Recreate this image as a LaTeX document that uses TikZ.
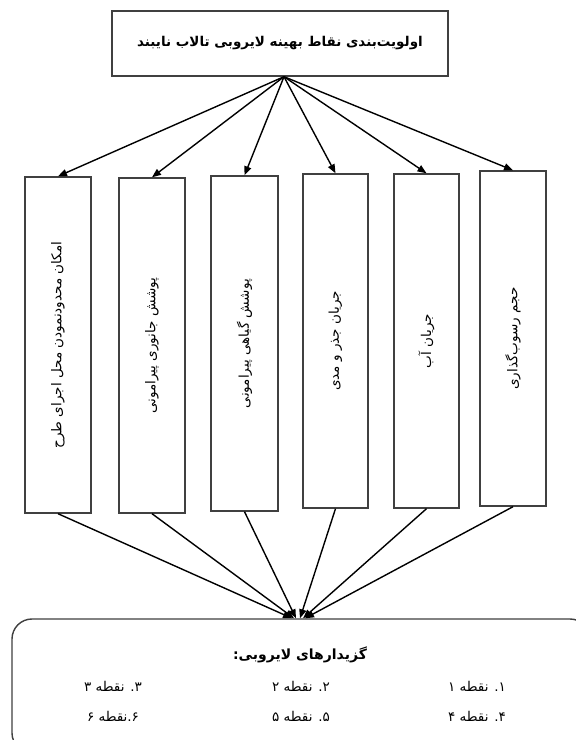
\documentclass[tikz,border=0pt]{standalone}
\usepackage{fontspec}
\usetikzlibrary{arrows.meta,calc}
\newfontfamily\fa[Script=Arabic]{DejaVu Sans}
\TeXXeTstate=1
\tikzset{
  frame/.style={draw=black!75, line width=1.4pt, fill=white, inner sep=0pt},
  vbox/.style={frame, rotate=90, font=\fa\fontsize{13.5}{15}\selectfont},
  conn/.style={draw=black, line width=1.4pt},
  arr/.style={conn, -{Triangle[length=9pt,width=7pt]}},
  itemtxt/.style={font=\fa\fontsize{13.5}{15}\selectfont, anchor=center}
}
\begin{document}
\begin{tikzpicture}[x=1pt,y=1pt]
\useasboundingbox (0,0) rectangle (576,740);
\clip (0,0) rectangle (576,740);
\fill[white] (0,0) rectangle (576,740);
% top box
\node[frame, minimum width=336pt, minimum height=65pt, font=\fa\bfseries\fontsize{13.5}{16}\selectfont] (top) at (280,696.5) {\beginR اولویت‌بندی نقاط بهینه لایروبی تالاب نایبند\endR};
% six vertical boxes (rotated: width along vertical)
\node[vbox, minimum width=336pt, minimum height=66pt] (b1) at (58,395) {\beginR امکان محدودنمودن محل اجرای طرح\endR};
\node[vbox, minimum width=335pt, minimum height=66pt] (b2) at (152,394.5) {\beginR پوشش جانوری پیرامونی\endR};
\node[vbox, minimum width=335pt, minimum height=67pt] (b3) at (244.5,396.5) {\beginR پوشش گیاهی پیرامونی\endR};
\node[vbox, minimum width=334pt, minimum height=65pt] (b4) at (335.5,399) {\beginR جریان جذر و مدی\endR};
\node[vbox, minimum width=334pt, minimum height=65pt] (b5) at (426.5,399) {\beginR جریان آب\endR};
\node[vbox, minimum width=335pt, minimum height=66pt] (b6) at (513,401.5) {\beginR حجم رسوب‌گذاری\endR};
% bottom rounded box
\node[frame, rounded corners=20pt, minimum width=578pt, minimum height=134pt] (bot) at (301,54) {};
\node[font=\fa\bfseries\fontsize{14}{16}\selectfont] (bt) at (300,85) {\beginR گزیدارهای لایروبی:\endR};
\node[itemtxt] (i1) at (477,54) {\beginR ۱. نقطه ۱\endR};
\node[itemtxt] (i2) at (301,54) {\beginR ۲. نقطه ۲\endR};
\node[itemtxt] (i3) at (113,54) {\beginR ۳. نقطه ۳\endR};
\node[itemtxt] (i4) at (477,24) {\beginR ۴. نقطه ۴\endR};
\node[itemtxt] (i5) at (301,24) {\beginR ۵. نقطه ۵\endR};
\node[itemtxt] (i6) at (113,24) {\beginR ۶.نقطه ۶\endR};
% arrows from top box
\coordinate (apex) at ($(top.south)+(4,0)$);
\foreach \b in {b1,b2,b3,b4,b5,b6}{
  \draw[arr] (apex) -- (\b.east);
}
% lines to bottom box
\draw[arr] (b1.west) -- ($(bot.north)+(-9,0)$);
\draw[arr] (b2.west) -- ($(bot.north)+(-7,0)$);
\draw[arr] (b3.west) -- ($(bot.north)+(-5,0)$);
\draw[arr] (b4.west) -- ($(bot.north)+(-1,0)$);
\draw[arr] (b5.west) -- ($(bot.north)+(2,0)$);
\draw[arr] (b6.west) -- ($(bot.north)+(4,0)$);
\end{tikzpicture}
\end{document}
